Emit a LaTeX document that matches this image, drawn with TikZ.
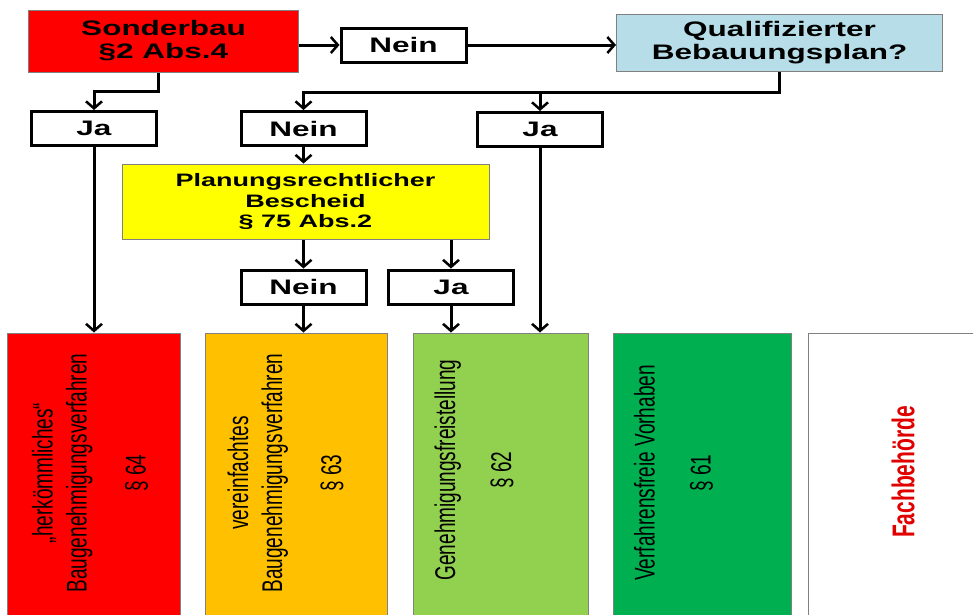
\documentclass[tikz,border=0pt]{standalone}
\usepackage{fontspec}
\setmainfont{Liberation Sans}
\newfontfamily\widefont[FakeStretch=1.5]{Liberation Sans}
\newfontfamily\narrowfont[FakeStretch=0.667]{Liberation Sans}
\usetikzlibrary{arrows.meta}
\definecolor{sonderred}{HTML}{FF0000}
\definecolor{qualblue}{HTML}{B7DEE8}
\definecolor{bescheidyellow}{HTML}{FFFF00}
\definecolor{simpleorange}{HTML}{FFC000}
\definecolor{freegreen}{HTML}{92D050}
\definecolor{procgreen}{HTML}{00B050}
\definecolor{fachred}{HTML}{E00000}
\begin{document}
\begin{tikzpicture}[x=1pt, y=-1pt,
		answer/.style={draw, line width=3pt, fill=white, inner sep=0pt, minimum width=125pt, minimum height=34pt, font=\widefont\bfseries\fontsize{21}{23}\selectfont},
		question/.style={draw=gray, line width=1pt, inner sep=0pt, align=center, font=\widefont\bfseries\fontsize{21}{23}\selectfont},
		procbox/.style={draw=gray, line width=1pt, inner sep=0pt, minimum height=317pt},
		proctext/.style={rotate=90, align=center, inner sep=0pt, font=\narrowfont\fontsize{28.5}{34}\selectfont},
		arr/.style={line width=3pt, -{Straight Barb[length=7pt, width=16pt, line width=2.5pt]}}]
%			\draw[help lines] (0,0) grid (973,614);
			\clip (0,0) rectangle (973,614);
			\node[question, fill=sonderred, minimum width=270pt, minimum height=62pt] (sonder) at (163.5,41) {Sonderbau \\ §2 Abs.4};
			\node[answer] (nein1) at (403.5,45) {Nein};
			\node[question, fill=qualblue, minimum width=326pt, minimum height=57pt] (quali) at (779.5,43) {Qualifizierter \\ Bebauungsplan?};
			\node[answer] (ja1) at (94,128.5) {Ja};
			\node[answer] (nein2) at (303.5,128.5) {Nein};
			\node[answer] (ja2) at (540,129.5) {Ja};
			\node[question, fill=bescheidyellow, minimum width=367pt, minimum height=75pt, font=\widefont\bfseries\fontsize{18}{20.5}\selectfont] (bescheid) at (305.5,201.5) {Planungsrechtlicher \\ Bescheid \\ § 75 Abs.2};
			\node[answer] (nein3) at (303.5,287) {Nein};
			\node[answer] (ja3) at (451,287) {Ja};
			\node[procbox, fill=sonderred, minimum width=173pt] (b64) at (93.5,491.5) {};
			\node[procbox, fill=simpleorange, minimum width=182pt] (b63) at (296,491.5) {};
			\node[procbox, fill=freegreen, minimum width=175pt] (b62) at (500.5,491.5) {};
			\node[procbox, fill=procgreen, minimum width=178pt] (b61) at (702,491.5) {};
			\node[procbox, fill=white, minimum width=192pt] (bfach) at (904,491.5) {};
			\node[proctext] (t64) at (90,473) {„herkömmliches“ \\ Baugenehmigungsverfahren \\[25pt] § 64};
			\node[proctext] (t63) at (285.5,473) {vereinfachtes \\ Baugenehmigungsverfahren \\[25pt] § 63};
			\node[proctext] (t62) at (474,470) {Genehmigungsfreistellung \\[22pt] § 62};
			\node[proctext] (t61) at (673.5,473) {Verfahrensfreie Vorhaben \\[22pt] § 61};
			\node[proctext, text=fachred, font=\narrowfont\bfseries\fontsize{31.5}{36}\selectfont] (tfach) at (903,472) {Fachbehörde};
			\draw[arr] (sonder.east |- nein1.west) -- (nein1.west);
			\draw[arr] (nein1.east) -- (nein1.east -| quali.west);
			\draw[arr] (sonder.south -| ja1.east) -- ++(0,19) -| (ja1.north);
			\draw[arr] (quali.south) -- ++(0,20) coordinate (qfork) -| (nein2.north);
			\draw[arr] (qfork -| ja2.north) -- (ja2.north);
			\draw[arr] (nein2.south) -- (nein2.south |- bescheid.north);
			\draw[arr] (nein3.north |- bescheid.south) -- (nein3.north);
			\draw[arr] (ja3.north |- bescheid.south) -- (ja3.north);
			\draw[arr] (ja1.south) -- (ja1.south |- b64.north);
			\draw[arr] (nein3.south) -- (nein3.south |- b63.north);
			\draw[arr] (ja3.south) -- (ja3.south |- b62.north);
			\draw[arr] (ja2.south) -- (ja2.south |- b62.north);
		\end{tikzpicture}
\end{document}
